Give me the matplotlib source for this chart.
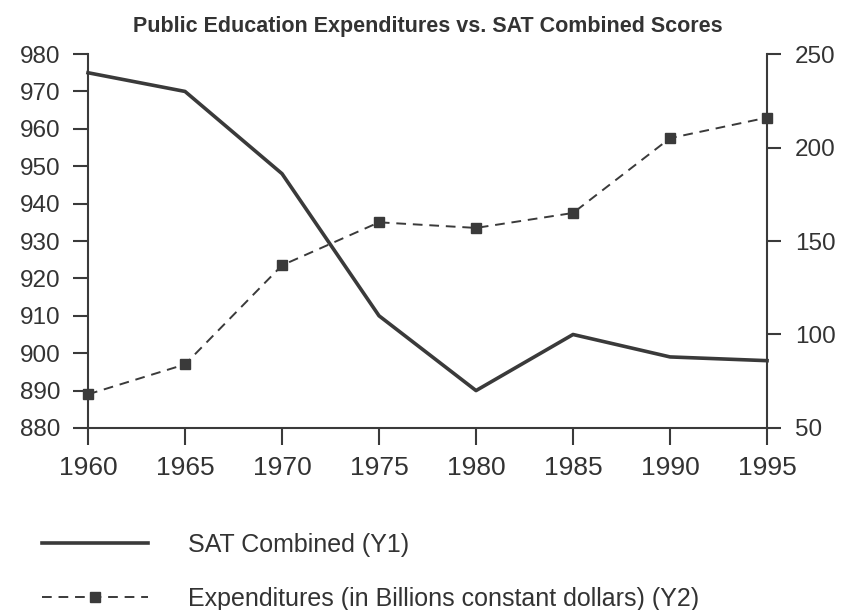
import numpy as np
import matplotlib
matplotlib.use('Agg')
import matplotlib.pyplot as plt

plt.rcParams['font.family'] = ['Liberation Sans', 'DejaVu Sans']

# donnees
annees = [1960, 1965, 1970, 1975, 1980, 1985, 1990, 1995]
sat = [975, 970, 948, 910, 890, 905, 899, 898]
depenses = [68, 84, 137, 160, 157, 165, 205, 216]

titre = "Public Education Expenditures vs. SAT Combined Scores"
label_sat = "SAT Combined (Y1)"
label_dep = "Expenditures (in Billions constant dollars) (Y2)"

gris = '#3a3a3a'

fig = plt.figure(figsize=(8.43, 6.10), dpi=100)
ax = fig.add_axes([0.1044, 0.2984, 0.8055, 0.613])
ax2 = ax.twinx()

l1, = ax.plot(annees, sat, color=gris, linewidth=2.6, solid_joinstyle='round', clip_on=False)
l2, = ax2.plot(annees, depenses, color=gris, linewidth=1.4, linestyle=(0, (5, 3.5)),
               marker='s', markersize=7.5, markeredgecolor=gris, markerfacecolor=gris,
               clip_on=False)

ax.set_xlim(1960, 1995)
ax.set_ylim(880, 980)
ax.set_yticks(np.arange(880, 981, 10))
ax.set_xticks(annees)
ax2.set_ylim(50, 250)
ax2.set_yticks([50, 100, 150, 200, 250])

for a in (ax, ax2):
    a.spines['top'].set_visible(False)
    for s in ('left', 'right', 'bottom'):
        a.spines[s].set_linewidth(1.5)
        a.spines[s].set_color(gris)
    a.tick_params(axis='both', colors=gris, width=1.5, direction='out',
                  labelcolor='#333333')
ax.spines['right'].set_visible(False)
ax2.spines['left'].set_visible(False)
ax2.spines['bottom'].set_visible(False)

ax.tick_params(axis='y', labelsize=17.5, length=11, pad=9)
ax.tick_params(axis='x', labelsize=19, length=12, pad=8)
ax2.tick_params(axis='y', labelsize=17.5, length=10, pad=10)

ax.set_title(titre, fontsize=15.5, fontweight='bold', color='#333333', pad=16)

fig.legend([l1, l2], [label_sat, label_dep], loc='upper left',
           bbox_to_anchor=(0.05, 0.127), frameon=False, fontsize=18,
           handlelength=4.24, handletextpad=1.6, labelspacing=1.2,
           borderpad=0, borderaxespad=0, labelcolor='#333333')

fig.savefig('out.png', dpi=100)
